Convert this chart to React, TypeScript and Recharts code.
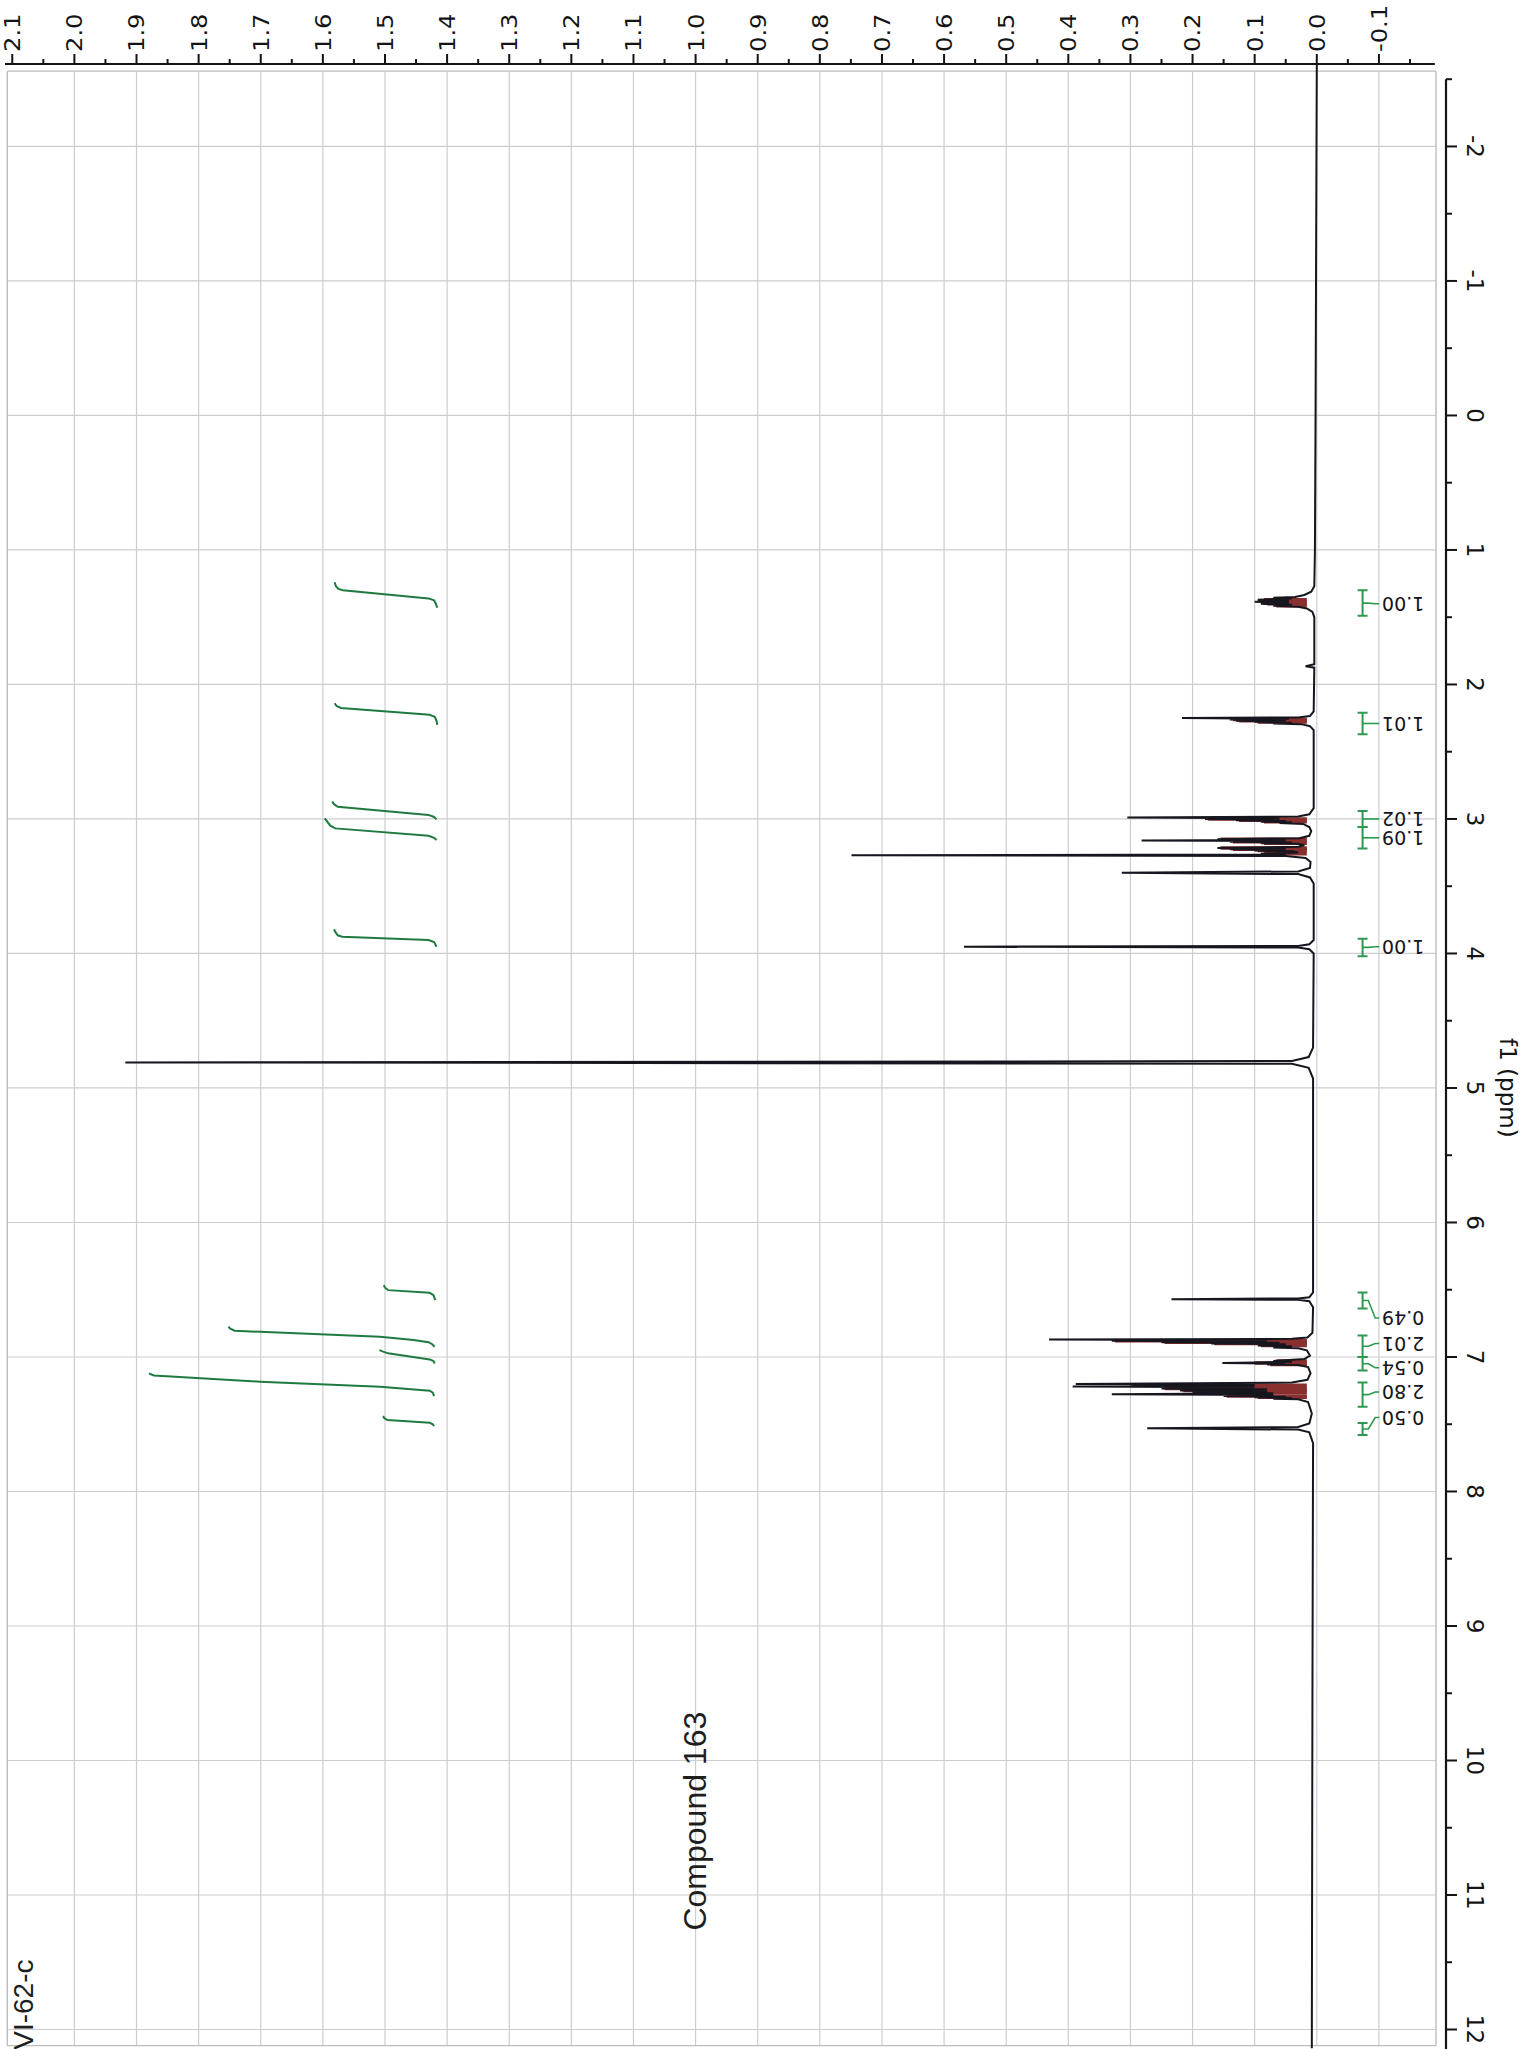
import React from "react";
import { ScatterChart, Scatter, XAxis, YAxis, ReferenceLine } from "recharts";

const W = 1522;
const H = 2049;

// intensity axis (top), drawn reversed
const intensityMajor = [2.1, 2.0, 1.9, 1.8, 1.7, 1.6, 1.5, 1.4, 1.3, 1.2, 1.1, 1.0, 0.9, 0.8, 0.7, 0.6, 0.5, 0.4, 0.3, 0.2, 0.1, 0.0, -0.1];
const intensityMinor = [2.05, 1.95, 1.85, 1.75, 1.65, 1.55, 1.45, 1.35, 1.25, 1.15, 1.05, 0.95, 0.85, 0.75, 0.65, 0.55, 0.45, 0.35, 0.25, 0.15, 0.05, -0.05, -0.15];
const gridIntensity = [2.0, 1.9, 1.8, 1.7, 1.6, 1.5, 1.4, 1.3, 1.2, 1.1, 1.0, 0.9, 0.8, 0.7, 0.6, 0.5, 0.4, 0.3, 0.2, 0.1, 0.0, -0.1];

// chemical shift axis (right)
const ppmMajor = [-2, -1, 0, 1, 2, 3, 4, 5, 6, 7, 8, 9, 10, 11, 12];
const ppmMinor = [-2.5, -1.5, -0.5, 0.5, 1.5, 2.5, 3.5, 4.5, 5.5, 6.5, 7.5, 8.5, 9.5, 10.5, 11.5];

const V_MIN = -0.208;
const V_MAX = 2.1117;
const PPM_MIN = -2.613;
const PPM_MAX = 12.145;

// frame of the plot (grey box)
const frameLeft = 2.108;
const frameRight = -0.192;
const frameTop = -2.56;
const frameBottom = 12.12;

// [ppm, intensity]
const spectrum: [number, number][] = [
  [-2.61, 0.0], [0.0, 0.002], [1.0, 0.003], [1.27, 0.004], [1.31, 0.009],
  [1.335, 0.02], [1.35, 0.035], [1.355, 0.07], [1.36, 0.04], [1.37, 0.095],
  [1.378, 0.045], [1.385, 0.1], [1.393, 0.045], [1.4, 0.09], [1.408, 0.04],
  [1.415, 0.07], [1.422, 0.03], [1.435, 0.016], [1.46, 0.007], [1.5, 0.004],
  [1.85, 0.004], [1.865, 0.018], [1.875, 0.004],
  [2.2, 0.005], [2.235, 0.011], [2.245, 0.03], [2.25, 0.217], [2.255, 0.045],
  [2.26, 0.14], [2.265, 0.05], [2.27, 0.13], [2.275, 0.05], [2.28, 0.1],
  [2.285, 0.04], [2.29, 0.07], [2.295, 0.025], [2.31, 0.011], [2.34, 0.005],
  [2.92, 0.005], [2.965, 0.012], [2.982, 0.03], [2.99, 0.305], [2.995, 0.06],
  [3.0, 0.18], [3.005, 0.06], [3.01, 0.13], [3.015, 0.05], [3.02, 0.09],
  [3.025, 0.04], [3.03, 0.06], [3.037, 0.022], [3.06, 0.012], [3.09, 0.009],
  [3.125, 0.012], [3.143, 0.028], [3.15, 0.16], [3.155, 0.05], [3.16, 0.282],
  [3.165, 0.05], [3.17, 0.14], [3.175, 0.04], [3.18, 0.09], [3.185, 0.03],
  [3.195, 0.02], [3.207, 0.03], [3.215, 0.16], [3.22, 0.05], [3.225, 0.14],
  [3.23, 0.05], [3.235, 0.1], [3.24, 0.04], [3.25, 0.03], [3.258, 0.09],
  [3.264, 0.05], [3.27, 0.749], [3.276, 0.05], [3.29, 0.018], [3.32, 0.01],
  [3.365, 0.011], [3.39, 0.03], [3.4, 0.314], [3.41, 0.03], [3.435, 0.011],
  [3.48, 0.005],
  [3.9, 0.005], [3.932, 0.012], [3.944, 0.03], [3.95, 0.568], [3.956, 0.03],
  [3.968, 0.012], [4.0, 0.005],
  [4.7, 0.006], [4.77, 0.013], [4.8, 0.04], [4.81, 1.918], [4.82, 0.04],
  [4.85, 0.013], [4.93, 0.006],
  [6.52, 0.006], [6.556, 0.012], [6.565, 0.03], [6.57, 0.234], [6.575, 0.03],
  [6.585, 0.012], [6.63, 0.006],
  [6.82, 0.007], [6.855, 0.015], [6.865, 0.04], [6.87, 0.431], [6.875, 0.08],
  [6.88, 0.33], [6.885, 0.08], [6.89, 0.25], [6.895, 0.06], [6.9, 0.17],
  [6.905, 0.05], [6.915, 0.095], [6.92, 0.04], [6.93, 0.07], [6.935, 0.03],
  [6.95, 0.016], [6.99, 0.011], [7.015, 0.02], [7.03, 0.07], [7.037, 0.04],
  [7.045, 0.152], [7.05, 0.05], [7.055, 0.08], [7.06, 0.03], [7.075, 0.014],
  [7.12, 0.01], [7.17, 0.015], [7.19, 0.04], [7.2, 0.388], [7.205, 0.1],
  [7.21, 0.3], [7.215, 0.1], [7.22, 0.393], [7.225, 0.1], [7.235, 0.25],
  [7.24, 0.08], [7.25, 0.22], [7.255, 0.08], [7.265, 0.2], [7.27, 0.07],
  [7.277, 0.33], [7.283, 0.07], [7.29, 0.15], [7.295, 0.05], [7.3, 0.1],
  [7.305, 0.04], [7.31, 0.07], [7.315, 0.03], [7.335, 0.014], [7.42, 0.008],
  [7.495, 0.012], [7.52, 0.03], [7.53, 0.273], [7.54, 0.03], [7.56, 0.012],
  [7.64, 0.006], [9.5, 0.007], [12.14, 0.008],
];

// dense multiplet lines shown in dark red
const multipletPpm = [1.37, 1.385, 1.4, 1.415, 2.26, 2.27, 2.28, 3.0, 3.01, 3.02, 3.15, 3.17, 3.18, 3.215, 3.225, 3.235, 3.258, 6.88, 6.89, 6.9, 6.915, 7.03, 7.045, 7.055, 7.21, 7.235, 7.25, 7.265, 7.29, 7.3];
const multipletTop = [0.085, 0.09, 0.08, 0.065, 0.135, 0.125, 0.095, 0.175, 0.125, 0.085, 0.155, 0.135, 0.085, 0.155, 0.135, 0.095, 0.085, 0.325, 0.245, 0.165, 0.09, 0.065, 0.1, 0.075, 0.295, 0.245, 0.215, 0.195, 0.145, 0.095];

// integral curves, [ppm, intensity]
const integralCurves: [number, number][][] = [
  [[1.24, 1.581], [1.27, 1.579], [1.29, 1.575], [1.30, 1.568], [1.36, 1.43], [1.375, 1.421], [1.40, 1.418], [1.43, 1.416]],
  [[2.14, 1.581], [2.16, 1.578], [2.175, 1.571], [2.225, 1.428], [2.24, 1.42], [2.27, 1.417], [2.30, 1.416]],
  [[2.87, 1.585], [2.89, 1.582], [2.91, 1.576], [2.97, 1.43], [2.985, 1.421], [3.003, 1.417]],
  [[2.995, 1.597], [3.02, 1.593], [3.05, 1.588], [3.07, 1.58], [3.125, 1.43], [3.14, 1.421], [3.157, 1.417]],
  [[3.82, 1.582], [3.84, 1.58], [3.865, 1.576], [3.875, 1.569], [3.9, 1.43], [3.915, 1.421], [3.95, 1.417]],
  [[6.466, 1.502], [6.485, 1.5], [6.503, 1.495], [6.523, 1.428], [6.54, 1.422], [6.577, 1.419]],
  [[6.775, 1.752], [6.79, 1.749], [6.805, 1.742], [6.85, 1.508], [6.874, 1.454], [6.89, 1.43], [6.905, 1.424], [6.924, 1.42]],
  [[6.949, 1.509], [6.96, 1.503], [6.973, 1.495], [7.018, 1.428], [7.03, 1.422], [7.048, 1.42]],
  [[7.122, 1.88], [7.13, 1.876], [7.137, 1.872], [7.184, 1.701], [7.221, 1.508], [7.251, 1.428], [7.265, 1.423], [7.291, 1.421]],
  [[7.439, 1.503], [7.455, 1.501], [7.469, 1.496], [7.489, 1.428], [7.5, 1.423], [7.514, 1.421]],
];

// integral brackets and their values
const integralLabels = ["1.00", "1.01", "1.02", "1.09", "1.00", "0.49", "2.01", "0.54", "2.80", "0.50"];
const bracketStart = [1.3, 2.21, 2.94, 3.06, 3.89, 6.52, 6.84, 7.0, 7.19, 7.49];
const bracketEnd = [1.49, 2.37, 3.06, 3.22, 4.02, 6.64, 7.0, 7.1, 7.37, 7.58];
const labelPpm = [1.4, 2.29, 3.0, 3.14, 3.95, 6.71, 6.9, 7.08, 7.26, 7.45];

const BRACKET_V = -0.0737;
const CAP = 0.008;
const LABEL_V = -0.1049;

const INK = "#141414";
const GRID = "#cdcdcd";
const GREEN = "#1f7a40";
const BRACKET_GREEN = "#2c9a4e";
const RED = "#8a2f2f";

const Nothing = () => <g />;

const pts = (list: [number, number][]) => list.map(([ppm, v]) => ({ ppm, v }));

function TopTick(props: any) {
  const { x, y, payload } = props;
  const value = payload.value as number;
  const major = intensityMajor.includes(value);
  const ty = y - 12;
  return (
    <g>
      <line x1={x} y1={y} x2={x} y2={y - (major ? 10 : 5)} stroke={INK} strokeWidth={2} />
      {major && (
        <text
          x={0}
          y={0}
          dy="0.36em"
          textAnchor="start"
          transform={`translate(${x} ${ty}) rotate(-90) scale(1.1 1)`}
          fontFamily="DejaVu Sans, sans-serif"
          fontSize={22}
          fill={INK}
        >
          {value.toFixed(1)}
        </text>
      )}
    </g>
  );
}

function RightTick(props: any) {
  const { x, y, payload } = props;
  const value = payload.value as number;
  const major = ppmMajor.includes(value);
  const tx = x + 21;
  return (
    <g>
      <line x1={x} y1={y} x2={x + (major ? 11 : 6)} y2={y} stroke={INK} strokeWidth={2} />
      {major && (
        <text
          x={tx}
          y={y}
          textAnchor="middle"
          transform={`rotate(90 ${tx} ${y})`}
          fontFamily="DejaVu Sans, sans-serif"
          fontSize={23}
          fill={INK}
        >
          {String(value)}
        </text>
      )}
    </g>
  );
}

const integralLabelShape = (p: any) => (
  <text
    x={p.cx}
    y={p.cy}
    dy="0.36em"
    textAnchor="end"
    transform={`rotate(180 ${p.cx} ${p.cy})`}
    fontFamily="DejaVu Sans, sans-serif"
    fontSize={19}
    fill="#141420"
  >
    {p.payload.text}
  </text>
);

const noteShape = (p: any) => (
  <text
    x={p.cx}
    y={p.cy}
    textAnchor={p.payload.anchor}
    transform={`rotate(-90 ${p.cx} ${p.cy})`}
    fontFamily="Liberation Sans, Arial, sans-serif"
    fontSize={p.payload.size}
    fill="#1e1e1e"
  >
    {p.payload.text}
  </text>
);

const notes = [
  { v: 0.9833, ppm: 10.451, text: "Compound 163", anchor: "middle", size: 32 },
  { v: 2.067, ppm: 11.48, text: "VI-62-c", anchor: "end", size: 28 },
];

const AxisTitle = (props: any) => {
  const vb = props.viewBox || { x: 1446, y: 64, width: 76, height: 1985 };
  const tx = vb.x + 54;
  const ty = vb.y + vb.height * 0.5158;
  return (
    <text
      x={tx}
      y={ty}
      textAnchor="middle"
      transform={`rotate(90 ${tx} ${ty})`}
      fontFamily="DejaVu Sans, sans-serif"
      fontSize={23}
      fill={INK}
    >
      f1 (ppm)
    </text>
  );
};

export default function App() {
  const bracketData = bracketStart.map((s, i) =>
    pts([
      [s, BRACKET_V - CAP],
      [s, BRACKET_V + CAP],
      [s, BRACKET_V],
      [bracketEnd[i], BRACKET_V],
      [bracketEnd[i], BRACKET_V + CAP],
      [bracketEnd[i], BRACKET_V - CAP],
    ])
  );
  const leaderData = bracketStart.map((s, i) => {
    const mid = (s + bracketEnd[i]) / 2;
    return pts([
      [mid, BRACKET_V],
      [mid, -0.083],
      [labelPpm[i], -0.094],
      [labelPpm[i], -0.1005],
    ]);
  });
  const labelData = integralLabels.map((text, i) => ({ v: LABEL_V, ppm: labelPpm[i], text }));

  return (
    <div style={{ position: "absolute", left: 0, top: 0, width: W, height: H, background: "#fff" }}>
      <ScatterChart width={W} height={H} margin={{ top: 0, right: 0, bottom: 0, left: 5 }}>
        <XAxis
          type="number"
          dataKey="v"
          orientation="top"
          reversed
          domain={[V_MIN, V_MAX]}
          allowDataOverflow
          ticks={[...intensityMajor, ...intensityMinor]}
          interval={0}
          height={64}
          tickSize={0}
          tickMargin={0}
          tickLine={false}
          axisLine={false}
          tick={(p: any) => <TopTick {...p} />}
        />
        <YAxis
          type="number"
          dataKey="ppm"
          orientation="right"
          reversed
          domain={[PPM_MIN, PPM_MAX]}
          allowDataOverflow
          ticks={[...ppmMajor, ...ppmMinor]}
          interval={0}
          width={76}
          tickSize={0}
          tickMargin={0}
          tickLine={false}
          axisLine={false}
          tick={(p: any) => <RightTick {...p} />}
          label={{ value: "f1 (ppm)", content: (p: any) => <AxisTitle {...p} /> }}
        />

        {gridIntensity.map((g) => (
          <ReferenceLine
            key={`gv${g}`}
            segment={[{ x: g, y: frameTop }, { x: g, y: frameBottom }]}
            stroke={GRID}
            strokeWidth={1.2}
          />
        ))}
        {ppmMajor.map((g) => (
          <ReferenceLine
            key={`gh${g}`}
            segment={[{ x: frameLeft, y: g }, { x: frameRight, y: g }]}
            stroke={GRID}
            strokeWidth={1.2}
          />
        ))}
        <ReferenceLine segment={[{ x: frameLeft, y: frameTop }, { x: frameRight, y: frameTop }]} stroke="#bdbdbd" strokeWidth={1.4} />
        <ReferenceLine segment={[{ x: frameRight, y: frameTop }, { x: frameRight, y: frameBottom }]} stroke="#bdbdbd" strokeWidth={1.4} />
        <ReferenceLine segment={[{ x: frameLeft, y: frameTop }, { x: frameLeft, y: frameBottom }]} stroke="#bdbdbd" strokeWidth={1.4} />
        <ReferenceLine segment={[{ x: frameLeft, y: frameBottom }, { x: frameRight, y: frameBottom }]} stroke="#bdbdbd" strokeWidth={1.4} />

        {/* axis lines */}
        <ReferenceLine segment={[{ x: V_MAX, y: PPM_MIN }, { x: -0.19, y: PPM_MIN }]} stroke={INK} strokeWidth={2.2} />
        <ReferenceLine segment={[{ x: V_MIN, y: -2.5 }, { x: V_MIN, y: PPM_MAX }]} stroke={INK} strokeWidth={2.2} />

        <Scatter
          data={pts(spectrum)}
          line={{ stroke: "#16161e", strokeWidth: 2 }}
          lineType="joint"
          shape={Nothing}
          isAnimationActive={false}
        />

        {multipletPpm.map((p, i) => (
          <ReferenceLine
            key={`m${i}`}
            segment={[{ x: 0.016, y: p }, { x: multipletTop[i], y: p }]}
            stroke={RED}
            strokeWidth={3.5}
          />
        ))}

        {integralCurves.map((c, i) => (
          <Scatter
            key={`int${i}`}
            data={pts(c)}
            line={{ stroke: GREEN, strokeWidth: 2 }}
            lineType="joint"
            shape={Nothing}
            isAnimationActive={false}
          />
        ))}

        {bracketData.map((d, i) => (
          <Scatter
            key={`br${i}`}
            data={d}
            line={{ stroke: BRACKET_GREEN, strokeWidth: 2 }}
            lineType="joint"
            shape={Nothing}
            isAnimationActive={false}
          />
        ))}
        {leaderData.map((d, i) => (
          <Scatter
            key={`ld${i}`}
            data={d}
            line={{ stroke: BRACKET_GREEN, strokeWidth: 1.6 }}
            lineType="joint"
            shape={Nothing}
            isAnimationActive={false}
          />
        ))}

        <Scatter data={labelData} shape={integralLabelShape} isAnimationActive={false} />
        <Scatter data={notes} shape={noteShape} isAnimationActive={false} />
      </ScatterChart>
    </div>
  );
}
